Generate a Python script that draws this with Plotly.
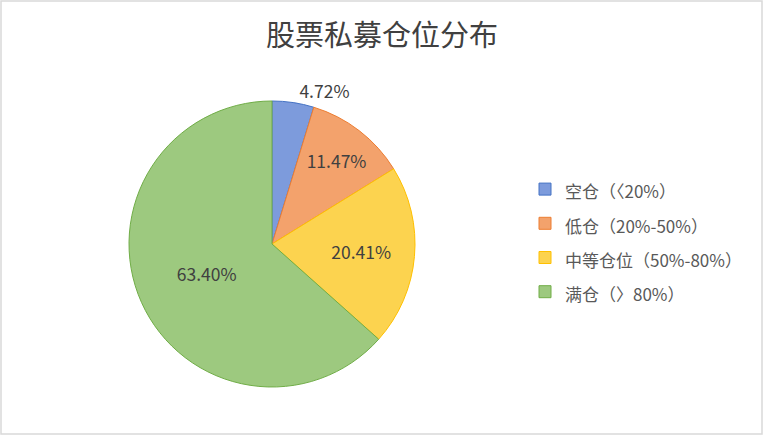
import plotly.graph_objects as go

# 数据
labels = ['空仓（〈20%）', '低仓（20%-50%）', '中等仓位（50%-80%）', '满仓（〉80%）']
values = [4.72, 11.47, 20.41, 63.40]
fill_colors = ['#7d9bdc', '#f3a26c', '#fcd34f', '#9dc97f']
line_colors = ['#4472c4', '#ed7d31', '#ffc000', '#70ad47']
text_pos = ['outside', 'inside', 'inside', 'inside']

W, H = 764, 436

# 图例文字用小号字，图例本身用大号字撑开行距
legend_labels = ['<span style="font-size:17px">%s</span>' % s for s in labels]

fig = go.Figure()
fig.add_trace(go.Pie(
    labels=legend_labels,
    values=values,
    sort=False,
    direction='clockwise',
    rotation=0,
    marker=dict(colors=fill_colors, line=dict(color=line_colors, width=1)),
    texttemplate='%{value:.2f}%',
    textposition=text_pos,
    insidetextorientation='horizontal',
    textfont=dict(size=17.5, color='#404040', family='Noto Sans CJK SC'),
    domain=dict(x=[129 / W, 415 / W], y=[1 - 387 / H, 1 - 101 / H]),
    hoverinfo='value',
))

fig.update_layout(
    width=W, height=H,
    margin=dict(l=0, r=0, t=0, b=0),
    paper_bgcolor='white',
    font=dict(family='Noto Sans CJK SC', color='#595959'),
    title=dict(text='股票私募仓位分布', x=0.5, xanchor='center', y=1 - 36 / H, yanchor='middle',
               yref='container', font=dict(size=29, color='#404040')),
    legend=dict(x=525 / W, y=1 - 167 / H, xanchor='left', yanchor='top',
                font=dict(size=24, color='#595959'), itemclick=False),
    uniformtext=dict(minsize=17.5, mode='show'),
    shapes=[dict(type='rect', xref='paper', yref='paper', x0=1 / W, x1=1 - 2 / W,
                 y0=2 / H, y1=1 - 1 / H, line=dict(color='#d9d9d9', width=1.5))],
)

fig.write_html('out.html', config={'displayModeBar': False},
               post_script="document.body.style.margin='0';")
